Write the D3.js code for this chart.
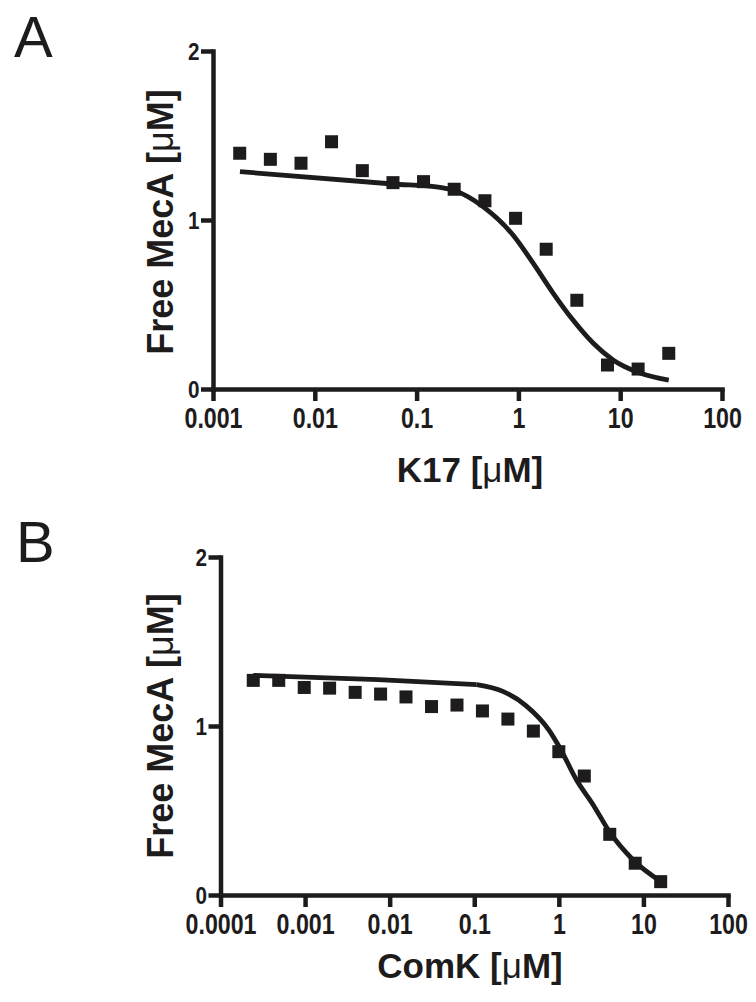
<!DOCTYPE html>
<html>
<head>
<meta charset="utf-8">
<script src="https://cdn.jsdelivr.net/npm/d3@7"></script>
<style>
  body { margin: 0; background: #fff; }
  svg { display: block; }
</style>
</head>
<body>
<svg id="fig" width="756" height="1002"></svg>
<script>
// Panel A: K17 titration (concentrations in uM)
const k17Conc = [0.00183, 0.00366, 0.00732, 0.0146, 0.0293, 0.0586, 0.117, 0.234, 0.469, 0.938, 1.875, 3.75, 7.5, 15, 30];
const k17Free = [1.395, 1.359, 1.336, 1.463, 1.292, 1.221, 1.227, 1.182, 1.114, 1.010, 0.827, 0.525, 0.142, 0.118, 0.211];
// fitted curve
const k17FitConc = [0.00184, 0.0586, 0.170, 0.238, 0.449, 0.885, 1.39, 2.19, 3.44, 5.41, 8.5, 15.6, 30];
const k17FitFree = [1.286, 1.213, 1.193, 1.173, 1.079, 0.911, 0.746, 0.568, 0.408, 0.272, 0.172, 0.095, 0.053];
const k17Ticks = [0.001, 0.01, 0.1, 1, 10, 100];
const k17TickLabels = ["0.001", "0.01", "0.1", "1", "10", "100"];

// Panel B: ComK titration
const comkConc = [0.000244, 0.000488, 0.000977, 0.00195, 0.00391, 0.00781, 0.0156, 0.03125, 0.0625, 0.125, 0.25, 0.5, 1, 2, 4, 8, 16];
const comkFree = [1.270, 1.270, 1.228, 1.224, 1.199, 1.189, 1.172, 1.115, 1.124, 1.089, 1.041, 0.970, 0.848, 0.704, 0.359, 0.188, 0.079];
// fitted curve (straight up to the kink near 0.1, then bending)
const comkFitConc = [0.000244, 0.00728, 0.107, 0.218, 0.408, 0.764, 1.03, 1.62, 2.55, 4.02, 7.57, 16];
const comkFitFree = [1.30, 1.275, 1.245, 1.205, 1.121, 0.976, 0.870, 0.680, 0.533, 0.370, 0.207, 0.080];
const comkKink = 2;
const comkTicks = [0.0001, 0.001, 0.01, 0.1, 1, 10, 100];
const comkTickLabels = ["0.0001", "0.001", "0.01", "0.1", "1", "10", "100"];

const yTicks = [0, 1, 2];
const ink = "#1d1b1c";

let svg = d3.select("#fig");

// Draws one panel
function panel(opt) {
    let g = svg.append("g");

    let x = d3.scaleLog()
        .domain([opt.ticks[0], opt.ticks[opt.ticks.length - 1]])
        .range([opt.left, opt.right]);
    let y = d3.scaleLinear()
        .domain([0, 2])
        .range([opt.bottom, opt.top]);

    // x axis
    let xAxis = g.append("g")
        .attr("transform", "translate(0," + y(0) + ")")
        .call(d3.axisBottom(x)
            .tickValues(opt.ticks)
            .tickFormat((d, i) => opt.tickLabels[i])
            .tickSize(12)
            .tickSizeOuter(0));

    // y axis
    let yAxis = g.append("g")
        .attr("transform", "translate(" + x(opt.ticks[0]) + ",0)")
        .call(d3.axisLeft(y)
            .tickValues(yTicks)
            .tickFormat(d3.format("d"))
            .tickSize(12)
            .tickSizeOuter(0));

    [xAxis, yAxis].forEach(a => {
        a.select(".domain").attr("stroke", ink).attr("stroke-width", 4.5).attr("stroke-linecap", "square");
        a.selectAll(".tick line").attr("stroke", ink).attr("stroke-width", 4.5);
    });

    // condensed look of the tick numbers
    xAxis.selectAll(".tick text")
        .attr("y", opt.xTickBase)
        .attr("dy", 0)
        .attr("transform", "scale(0.8,1)")
        .attr("fill", ink)
        .style("font-family", "'Liberation Sans', Arial, sans-serif")
        .style("font-weight", "bold")
        .style("font-size", "29px");

    yAxis.selectAll(".tick text")
        .attr("x", -15)
        .attr("dy", "0.36em")
        .attr("transform", "scale(0.9,1)")
        .attr("fill", ink)
        .style("font-family", "'Liberation Sans', Arial, sans-serif")
        .style("font-weight", "bold")
        .style("font-size", "23px");

    // fitted curve: straight part before the kink, smooth after it
    let fit = opt.fitConc.map((c, i) => [c, opt.fitFree[i]]);
    let parts = [[fit.slice(0, opt.kink + 1), d3.curveLinear], [fit.slice(opt.kink), d3.curveMonotoneX]];
    parts.forEach(p => {
        let line = d3.line()
            .x(d => x(d[0]))
            .y(d => y(d[1]))
            .curve(p[1]);
        g.append("path")
            .datum(p[0])
            .attr("d", line)
            .attr("fill", "none")
            .attr("stroke", ink)
            .attr("stroke-width", 4.8)
            .attr("stroke-linejoin", "round");
    });

    // data squares
    let s = 13;
    g.selectAll("rect.pt")
        .data(opt.conc.map((c, i) => [c, opt.free[i]]))
        .enter()
        .append("rect")
        .attr("class", "pt")
        .attr("x", d => x(d[0]) - s / 2)
        .attr("y", d => y(d[1]) - s / 2)
        .attr("width", s)
        .attr("height", s)
        .attr("fill", ink);

    // y title
    let yt = g.append("text")
        .attr("transform", "translate(173," + opt.yTitleMid + ") rotate(-90)")
        .attr("text-anchor", "middle")
        .attr("fill", ink)
        .style("font-family", "'Liberation Sans', Arial, sans-serif")
        .style("font-weight", "bold")
        .style("font-size", "36px");
    yt.append("tspan").text("Free MecA [");
    yt.append("tspan").style("font-weight", "normal").text("\u03bc");
    yt.append("tspan").text("M]");

    // x title
    let xt = g.append("text")
        .attr("x", 470)
        .attr("y", opt.xTitleBase)
        .attr("text-anchor", "middle")
        .attr("fill", ink)
        .style("font-family", "'Liberation Sans', Arial, sans-serif")
        .style("font-weight", "bold")
        .style("font-size", "35px");
    xt.append("tspan").text(opt.xName + " [");
    xt.append("tspan").style("font-weight", "normal").text("\u03bc");
    xt.append("tspan").text("M]");

    // panel letter
    g.append("text")
        .attr("x", opt.letterX)
        .attr("y", opt.letterY)
        .attr("fill", ink)
        .style("font-family", "'Liberation Sans', Arial, sans-serif")
        .style("font-size", "58px")
        .text(opt.letter);
}

panel({
    letter: "A", letterX: 14, letterY: 57,
    left: 213, right: 722, top: 51, bottom: 389,
    ticks: k17Ticks, tickLabels: k17TickLabels,
    conc: k17Conc, free: k17Free,
    fitConc: k17FitConc, fitFree: k17FitFree, kink: 0,
    xTickBase: 39, xTitleBase: 482, yTitleMid: 222,
    xName: "K17"
});

panel({
    letter: "B", letterX: 16, letterY: 562,
    left: 220.5, right: 728, top: 557, bottom: 895,
    ticks: comkTicks, tickLabels: comkTickLabels,
    conc: comkConc, free: comkFree,
    fitConc: comkFitConc, fitFree: comkFitFree, kink: comkKink,
    xTickBase: 39, xTitleBase: 978, yTitleMid: 726,
    xName: "ComK"
});
</script>
</body>
</html>
